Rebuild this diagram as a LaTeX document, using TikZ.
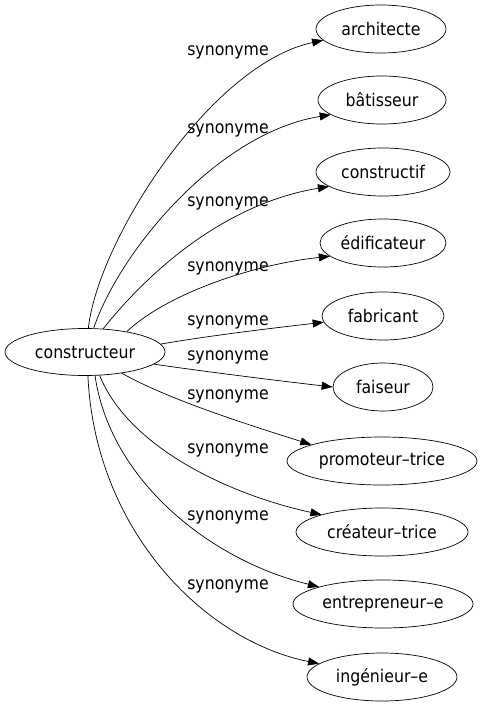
\documentclass[tikz,border=0pt]{standalone}
\usepackage{fontspec}
\setmainfont{DejaVu Sans Condensed}
\usetikzlibrary{shapes.geometric, arrows.meta}

\begin{document}
\begin{tikzpicture}[
    x=1pt, y=-1pt,
    font=\fontsize{17.5}{20}\selectfont,
    term/.style={ellipse, draw, line width=0.7pt, inner sep=0pt, minimum height=48pt},
    rel/.style={-{Triangle[length=11pt, width=8pt]}, line width=0.7pt},
    lbl/.style={inner sep=0pt}
]
\useasboundingbox (0,0) rectangle (483,707);

% ==================== SOURCE ====================
\node[term, minimum width=160pt, minimum height=47pt] (constr) at (85,352) {constructeur};

% ==================== SYNONYMS ====================
\node[term, minimum width=130pt] (archi) at (381,29) {architecte};
\node[term, minimum width=128pt] (batis) at (382,100) {bâtisseur};
\node[term, minimum width=134pt] (constf) at (383,172) {constructif};
\node[term, minimum width=126pt] (edif) at (383,243) {édificateur};
\node[term, minimum width=122pt] (fabri) at (383,316) {fabricant};
\node[term, minimum width=100pt] (fais) at (383,387) {faiseur};
\node[term, minimum width=190pt] (promo) at (382,461) {promoteur–trice};
\node[term, minimum width=172pt] (creat) at (382,532) {créateur–trice};
\node[term, minimum width=180pt] (entre) at (383,604) {entrepreneur–e};
\node[term, minimum width=150pt] (ingen) at (382,677) {ingénieur–e};

% ==================== LABELS ====================
\node[lbl] (l1) at (228,52) {synonyme};
\node[lbl] (l2) at (228,130) {synonyme};
\node[lbl] (l3) at (228,203) {synonyme};
\node[lbl] (l4) at (228,268) {synonyme};
\node[lbl] (l5) at (228,322) {synonyme};
\node[lbl] (l6) at (228,357) {synonyme};
\node[lbl] (l7) at (228,396) {synonyme};
\node[lbl] (l8) at (228,450) {synonyme};
\node[lbl] (l9) at (228,517) {synonyme};
\node[lbl] (l10) at (228,586) {synonyme};

% ==================== EDGES ====================
\draw[rel] (constr.82.6) .. controls +(10,-89) and +(-112,24) .. (archi.191.5);
\draw[rel] (constr.70.8) .. controls +(27,-79) and +(-112,18) .. (batis.196);
\draw[rel] (constr.52) .. controls +(47,-59) and +(-103,17) .. (constf.195);
\draw[rel] (constr.26.6) .. controls +(38,-36) and +(-82,9) .. (edif.194.7);
\draw[rel] (constr.6) .. controls +(53,-9) and +(-52,6) .. (fabri.186);
\draw[rel] (constr.-10) .. controls +(55,8) and +(-52,-6) .. (fais.180);
\draw[rel] (constr.-30) .. controls +(48,27) and +(-60,-19) .. (promo.167);
\draw[rel] (constr.-58) .. controls +(30,74) and +(-88,-19) .. (creat.164);
\draw[rel] (constr.-67) .. controls +(15,104) and +(-110,-27) .. (entre.165);
\draw[rel] (constr.-83) .. controls +(7,154) and +(-115,-23) .. (ingen.168);

\end{tikzpicture}
\end{document}
